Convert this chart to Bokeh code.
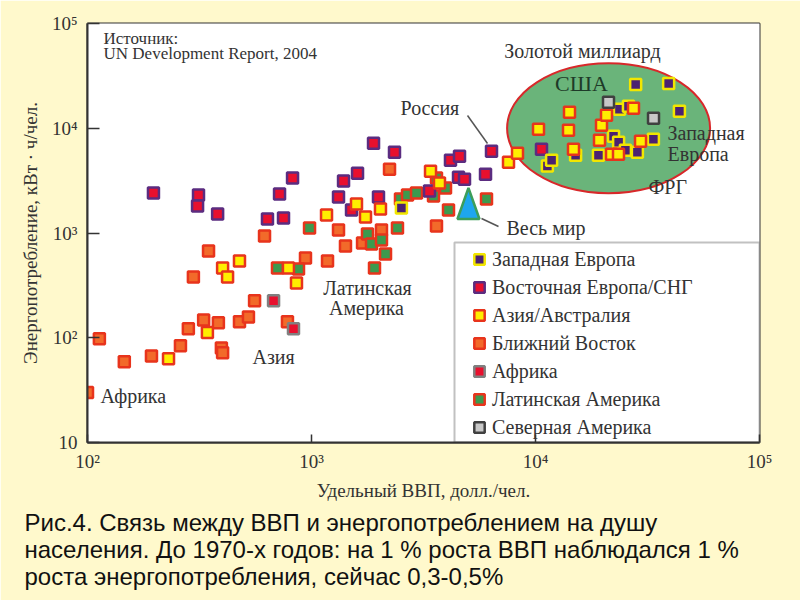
from bokeh.plotting import figure
from bokeh.models import Range1d, FixedTicker, Label, BoxAnnotation, Legend, LegendItem, Title
from bokeh.embed import file_html
from bokeh.resources import INLINE

# ---------------- data: GDP per capita (USD) and energy use per capita (kWh) ----------------
we_gdp = [2520, 11300, 11800, 15100, 19100, 22300, 23500, 23700, 25200, 28500, 28000, 33600, 39300, 43900, 26000]
we_energy = [1730, 4350, 4960, 5530, 5530, 8390, 7360, 15200, 6170, 5910, 26200, 7860, 26800, 14500, 16200]

ee_gdp = [197, 313, 310, 381, 636, 720, 750, 823, 1390, 1605, 1892, 2347, 1320, 1991, 1509, 3364,
          4173, 4579, 4532, 4820, 5982, 6362, 10636]
ee_energy = [2404, 2301, 1807, 1517, 1359, 2351, 1390, 3341, 3128, 3727, 7197, 5907, 2203, 2203, 1656, 2512,
             4958, 5412, 3415, 3268, 3647, 6040, 6310]

aa_gdp = [230, 343, 401, 422, 477, 789, 857, 1167, 1588, 1742, 2032, 3399, 3727, 7577, 8311, 10314,
          14184, 14039, 14776, 19307, 19708, 20749, 21844, 23473, 27384, 29431]
aa_energy = [63, 112, 464, 381, 541, 464, 334, 1484, 1889, 1420, 1693, 3895, 2994, 4746, 5779, 9784,
             14207, 9572, 6310, 7685, 10681, 13299, 5655, 5655, 15505, 7520]

me_gdp = [100, 113, 146, 193, 260, 282, 330, 384, 396, 401, 477, 523, 557, 297, 347, 617, 781, 940,
          1179, 1320, 1418, 1690, 2053, 2230, 3614]
me_energy = [30, 98, 59, 67, 84, 122, 148, 139, 80, 72, 142, 158, 225, 381, 674, 936, 142, 578,
             541, 1068, 752, 803, 1068, 4069, 1166]

af_gdp = [677, 831]
af_energy = [225, 122]

la_gdp = [705, 875, 980, 1778, 1853, 2053, 2140, 1911, 2420, 2496, 2683, 2943, 3505, 3614, 3965, 4089, 6043]
la_energy = [464, 454, 1116, 978, 786, 858, 631, 464, 1116, 2108, 2301, 2404, 2251, 3341, 2683, 1656, 2108]

na_gdp = [21180, 33640]
na_energy = [17684, 12451]

world_gdp = [5020]
world_energy = [1890]

gold_gdp = [21200]
gold_energy = [10000]

x_ticks = [100, 1000, 10000, 100000]
y_ticks = [10, 100, 1000, 10000, 100000]
tick_labels = {10: "10", 100: "10²", 1000: "10³", 10000: "10⁴", 100000: "10⁵"}

legend_names = ["Западная Европа", "Восточная Европа/СНГ", "Азия/Австралия", "Ближний Восток",
                "Африка", "Латинская Америка", "Северная Америка"]

caption_lines = [
    "Рис.4. Связь между ВВП и энергопотреблением на душу",
    "населения. До 1970-х годов: на 1 % роста ВВП наблюдался 1 %",
    "роста энергопотребления, сейчас 0,3-0,5%",
]

# ---------------- layout helpers ----------------
BG = "#FFF9CC"
INK = "#333333"
SERIF = "Liberation Serif"
W, H = 800, 600
SCAN_LEFT, SCAN_BOTTOM = 22, 503       # white "scan" area of the slide
FL, FR, FT, FB = 87, 41, 23, 158       # frame borders inside the figure
FW, FH = W - FL - FR, H - FT - FB

# page-pixel -> data coordinates (used only to place annotations)
def at(px, py):
    fx = (px - FL) / FW
    fy = (FT + FH - py) / FH
    return 10 ** (2 + 3 * fx), 10 ** (1 + 4 * fy)

p = figure(width=W, height=H, frame_width=FW, frame_height=FH,
           x_axis_type="log", y_axis_type="log",
           x_range=Range1d(1e2, 1e5), y_range=Range1d(1e1, 1e5),
           output_backend="svg", toolbar_location=None,
           min_border_left=FL, min_border_right=FR, min_border_top=FT, min_border_bottom=FB)
p.grid.visible = False
p.background_fill_color = "white"
p.border_fill_color = BG
p.outline_line_color = INK
p.outline_line_width = 2

# white scanned-picture area on the pale-yellow slide
p.add_layout(BoxAnnotation(left=SCAN_LEFT, right=W, top=0, bottom=SCAN_BOTTOM,
                           left_units="canvas", right_units="canvas",
                           top_units="canvas", bottom_units="canvas",
                           fill_color="white", fill_alpha=1, line_alpha=0, level="underlay"))

p.xaxis.ticker = FixedTicker(ticks=x_ticks, minor_ticks=[])
p.yaxis.ticker = FixedTicker(ticks=y_ticks, minor_ticks=[])
for ax, tin, stand in ((p.xaxis[0], 8, 8), (p.yaxis[0], 12, 10)):
    ax.axis_line_color = INK
    ax.axis_line_width = 2
    ax.major_tick_in = tin
    ax.major_tick_out = 0
    ax.major_tick_line_color = INK
    ax.major_tick_line_width = 1.5
    ax.minor_tick_line_color = None
    ax.major_label_overrides = tick_labels
    ax.major_label_text_font = SERIF
    ax.major_label_text_font_size = "19px"
    ax.major_label_text_color = INK
    ax.major_label_standoff = stand
    ax.axis_label_text_font = SERIF
    ax.axis_label_text_font_size = "19px"
    ax.axis_label_text_font_style = "normal"
    ax.axis_label_text_color = INK
p.xaxis.axis_label = "Удельный ВВП, долл./чел."
p.yaxis.axis_label = "Энергопотребление, кВт · ч/чел."
p.xaxis.axis_label_standoff = 5
p.yaxis.axis_label_standoff = 8

# caption under the picture
p.add_layout(Title(text="\n".join(caption_lines), align="left", offset=24 - FL, standoff=6,
                   text_font="Liberation Sans", text_font_size="24px", text_font_style="normal",
                   text_color="#111111", text_line_height=1.0), "below")

# "golden billion" ellipse
p.ellipse(x=gold_gdp, y=gold_energy, width=203, height=130,
          width_units="screen", height_units="screen",
          fill_color="#6AB47A", line_color="#D8282A", line_width=2)

# series
styles = {
    "ME": ("#F26A2A", "#E8341C"),
    "LA": ("#3C9A4E", "#E8341C"),
    "EE": ("#E8102E", "#5B2C80"),
    "WE": ("#4B2272", "#F2E600"),
    "AA": ("#FFEE00", "#E8341C"),
    "AF": ("#E8102E", "#808080"),
    "NA": ("#C8C8C8", "#404040"),
}
series = {
    "ME": (me_gdp, me_energy), "LA": (la_gdp, la_energy), "EE": (ee_gdp, ee_energy),
    "WE": (we_gdp, we_energy), "AA": (aa_gdp, aa_energy), "AF": (af_gdp, af_energy),
    "NA": (na_gdp, na_energy),
}
renderers = {}
for key in ["ME", "LA", "EE", "WE", "AA", "AF", "NA"]:
    xs, ys = series[key]
    fc, lc = styles[key]
    renderers[key] = p.scatter(xs, ys, marker="square", size=11, fill_color=fc,
                               line_color=lc, line_width=2.5)

# world triangle (tall, narrow): half-width / up / down extents in pixels
TRI_HW, TRI_UP, TRI_DN = 11, 16, 15
tx = [world_gdp[0], world_gdp[0] * 10 ** (-3 * TRI_HW / FW), world_gdp[0] * 10 ** (3 * TRI_HW / FW)]
ty = [world_energy[0] * 10 ** (4 * TRI_UP / FH), world_energy[0] * 10 ** (-4 * TRI_DN / FH),
      world_energy[0] * 10 ** (-4 * TRI_DN / FH)]
p.patch(tx, ty, fill_color="#1EA6EE", line_color="#3C9E5A", line_width=2.5)

# leader lines
for (a, b) in (((467, 115), (487, 143)), ((481, 218), (498, 226))):
    x0, y0 = at(*a)
    x1, y1 = at(*b)
    p.segment(x0=[x0], y0=[y0], x1=[x1], y1=[y1], line_color="#555555", line_width=1.5)

# text labels
def lab(text, px, py, size="20px", align="left", color=INK):
    x, y = at(px, py)
    p.add_layout(Label(x=x, y=y, text=text, text_font=SERIF, text_font_size=size,
                       text_align=align, text_baseline="middle", text_color=color))

lab("Источник:", 103, 38, "17px")
lab("UN Development Report, 2004", 103, 53, "17px")
lab("Золотой миллиард", 582, 50, "20px", "center")
lab("США", 581, 83, "22px", "center", "#1E3A28")
lab("Западная", 667, 132)
lab("Европа", 667, 153)
lab("ФРГ", 648, 186)
lab("Россия", 400, 107)
lab("Весь мир", 506, 227)
lab("Африка", 100, 395)
lab("Азия", 252, 356)
lab("Латинская", 367, 287, "20px", "center")
lab("Америка", 366, 307, "20px", "center")

# legend frame
lx, ly = at(454, 242)
p.add_layout(BoxAnnotation(left=lx, right=1e5, top=ly, bottom=10, fill_alpha=0,
                           line_color=INK, line_width=2))

order = ["WE", "EE", "AA", "ME", "AF", "LA", "NA"]
legend = Legend(items=[LegendItem(label=n, renderers=[renderers[k]]) for n, k in zip(legend_names, order)],
                location=(462 - FL, -3), margin=0, padding=4, spacing=0,
                glyph_width=26, glyph_height=28, label_height=28, label_standoff=0,
                label_text_font=SERIF, label_text_font_size="20px", label_text_color=INK,
                background_fill_alpha=0, border_line_alpha=0)
p.add_layout(legend)

open("out.html", "w").write(file_html(p, INLINE))
